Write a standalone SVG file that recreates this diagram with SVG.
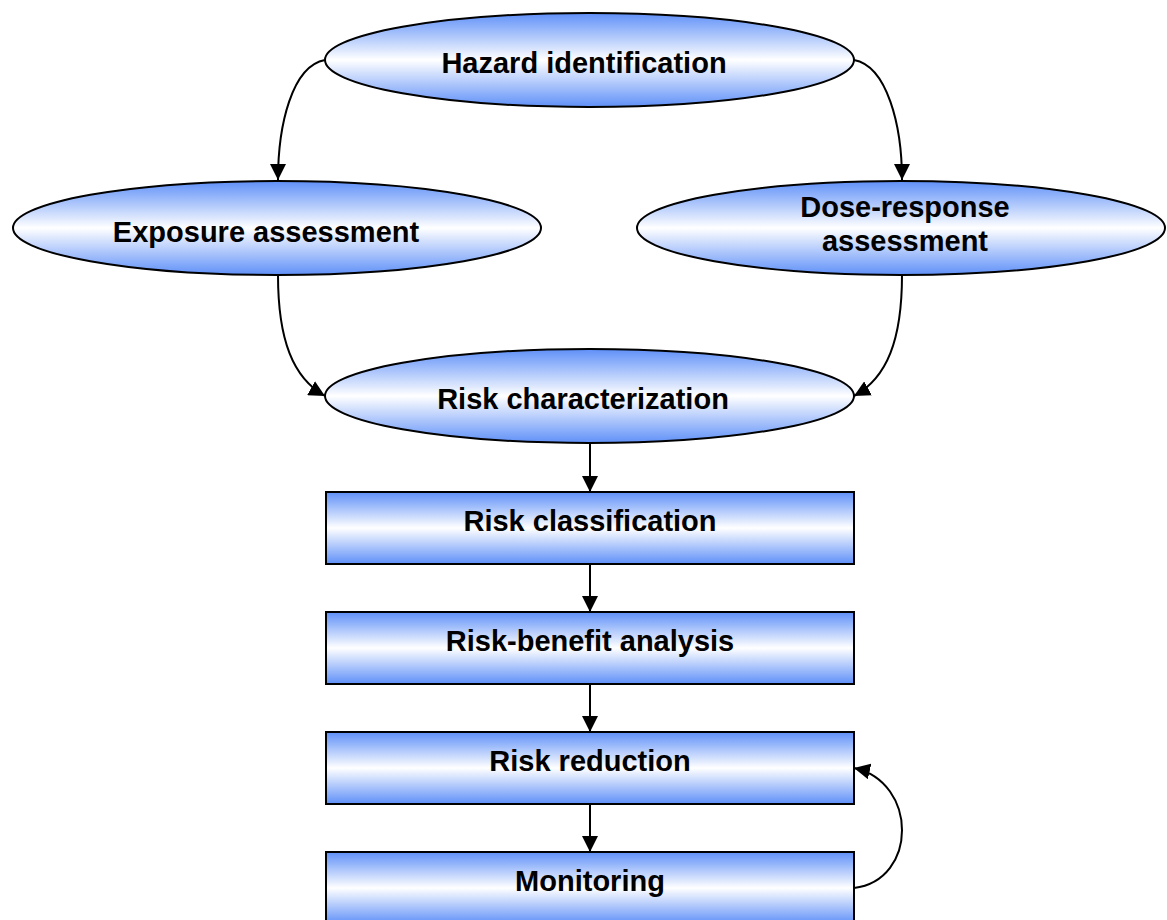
<svg xmlns="http://www.w3.org/2000/svg" width="1167" height="920" viewBox="0 0 1167 920">
<style>
.n{stroke:#000;stroke-width:2}
.e{fill:url(#ge)}
.r{fill:url(#gr)}
.t{font-family:"Liberation Sans",Arial,sans-serif;font-weight:bold;font-size:29px;fill:#000;text-anchor:middle}
.c{fill:none;stroke:#000;stroke-width:2;marker-end:url(#ah)}
</style>
<defs>
<linearGradient id="ge" x1="0" y1="0" x2="0" y2="1">
<stop offset="0" stop-color="#5f90f8"/><stop offset="0.5" stop-color="#ffffff"/><stop offset="1" stop-color="#5f90f8"/>
</linearGradient>
<linearGradient id="gr" x1="0" y1="0" x2="0" y2="1">
<stop offset="0" stop-color="#5f90f8"/><stop offset="0.5" stop-color="#ffffff"/><stop offset="1" stop-color="#5f90f8"/>
</linearGradient>
<marker id="ah" viewBox="0 0 10 10" refX="10" refY="5" markerWidth="8" markerHeight="8" orient="auto" markerUnits="strokeWidth">
<path d="M0,0 L10,5 L0,10 z" fill="#000"/>
</marker>
</defs>
<g id="connectors">
<path class="c" d="M325,60 C292,66 278,125 278,180"/>
<path class="c" d="M854,60 C887,66 902,125 902,180"/>
<path class="c" d="M278,275 C278,340 293,378 325,396"/>
<path class="c" d="M902,275 C902,340 887,378 854,396"/>
<path class="c" d="M590,443 L590,492"/>
<path class="c" d="M590,564 L590,612"/>
<path class="c" d="M590,684 L590,732"/>
<path class="c" d="M590,804 L590,852"/>
<path class="c" d="M854,888 C918,880 918,782 854,768"/>
</g>
<g id="hazard"><ellipse class="n e" cx="589.5" cy="60" rx="264.5" ry="47"/><text class="t" x="584" y="73">Hazard identification</text></g>
<g id="exposure"><ellipse class="n e" cx="277" cy="228" rx="264" ry="47"/><text class="t" x="266" y="242">Exposure assessment</text></g>
<g id="dose"><ellipse class="n e" cx="901" cy="228" rx="264" ry="47"/><text class="t" x="905" y="217">Dose-response</text><text class="t" x="905" y="251">assessment</text></g>
<g id="riskchar"><ellipse class="n e" cx="589.5" cy="396" rx="264.5" ry="47"/><text class="t" x="583" y="409">Risk characterization</text></g>
<g id="classification"><rect class="n r" x="326" y="492" width="528" height="72"/><text class="t" x="590" y="531">Risk classification</text></g>
<g id="benefit"><rect class="n r" x="326" y="612" width="528" height="72"/><text class="t" x="590" y="651">Risk-benefit analysis</text></g>
<g id="reduction"><rect class="n r" x="326" y="732" width="528" height="72"/><text class="t" x="590" y="771">Risk reduction</text></g>
<g id="monitoring"><rect class="n r" x="326" y="852" width="528" height="72"/><text class="t" x="590" y="891">Monitoring</text></g>
</svg>
